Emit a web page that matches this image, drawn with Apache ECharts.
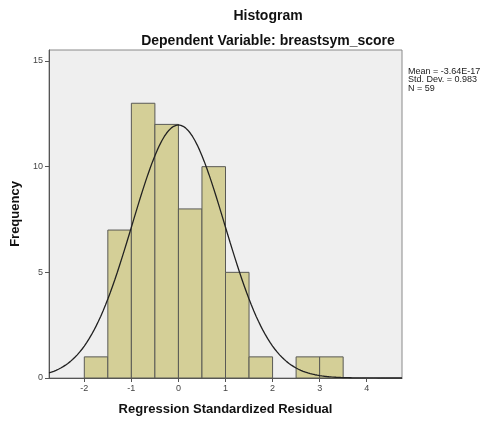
<!DOCTYPE html>
<html>
<head>
<meta charset="utf-8">
<script src="https://cdn.jsdelivr.net/npm/echarts@6/dist/echarts.min.js"></script>
<style>
  html, body { margin: 0; padding: 0; background: #ffffff; }
  #chart { width: 493px; height: 421px; }
</style>
</head>
<body>
<div id="chart"></div>
<script>
// Histogram bins (lower edge) and their frequencies
const binStarts = [-2, -1.5, -1, -0.5, 0, 0.5, 1, 1.5, 2, 2.5, 3];
const binWidth = 0.5;
const frequencies = [1, 7, 13, 12, 8, 10, 5, 1, 0, 1, 1];

// Summary statistics of the residuals
const residualMean = -3.64e-17;
const residualSd = 0.983;
const residualN = 59;

// Axis tick values
const xTicks = [-2, -1, 0, 1, 2, 3, 4];
const yTicks = [0, 5, 10, 15];

const statsLines = [
  'Mean = -3.64E-17',
  'Std. Dev. = 0.983',
  'N = 59'
];

// Bars as [start, end, count]
const barData = binStarts.map((s, i) => [s, s + binWidth, frequencies[i]]);

// Fitted normal curve, scaled to counts per bin
const curveData = [];
for (let k = 0; k <= 150; k++) {
  const x = -2.75 + k * 0.05;
  const z = (x - residualMean) / residualSd;
  const y = residualN * binWidth * Math.exp(-0.5 * z * z) / (residualSd * Math.sqrt(2 * Math.PI));
  curveData.push([x, y]);
}

const chart = echarts.init(document.getElementById('chart'), null, { renderer: 'canvas' });

const font = 'Liberation Sans, Arial, sans-serif';

chart.setOption({
  animation: false,
  backgroundColor: '#ffffff',
  title: [
    {
      text: 'Histogram',
      left: 263, top: 4, textAlign: 'center',
      textStyle: { fontFamily: font, fontSize: 14, fontWeight: 'bold', color: '#111' }
    },
    {
      text: 'Dependent Variable: breastsym_score',
      left: 263, top: 29, textAlign: 'center',
      textStyle: { fontFamily: font, fontSize: 14, fontWeight: 'bold', color: '#111' }
    }
  ],
  grid: {
    left: 49, right: 91, top: 50, bottom: 42,
    show: true,
    backgroundColor: '#efefef',
    borderColor: '#8a8a8a',
    borderWidth: 1
  },
  xAxis: {
    type: 'value',
    min: -2.75, max: 4.75,
    name: 'Regression Standardized Residual',
    nameLocation: 'middle',
    nameGap: 25,
    nameTextStyle: { fontFamily: font, fontSize: 13, fontWeight: 'bold', color: '#111' },
    axisLine: { show: true, onZero: false, lineStyle: { color: '#555', width: 1 } },
    axisTick: { show: true, customValues: xTicks, length: 4, lineStyle: { color: '#555' } },
    axisLabel: { customValues: xTicks, fontFamily: font, fontSize: 9, color: '#444', margin: 6 },
    splitLine: { show: false }
  },
  yAxis: {
    type: 'value',
    min: 0, max: 15.52,
    name: 'Frequency',
    nameLocation: 'middle',
    nameGap: 24,
    nameRotate: 90,
    nameTextStyle: { fontFamily: font, fontSize: 13, fontWeight: 'bold', color: '#111' },
    axisLine: { show: true, onZero: false, lineStyle: { color: '#555', width: 1 } },
    axisTick: { show: true, customValues: yTicks, length: 4, lineStyle: { color: '#555' } },
    axisLabel: { customValues: yTicks, fontFamily: font, fontSize: 9, color: '#444', margin: 6 },
    splitLine: { show: false }
  },
  series: [
    {
      type: 'custom',
      data: barData,
      encode: { x: [0, 1], y: 2 },
      renderItem: function (params, api) {
        const count = api.value(2);
        if (!count) return null;
        const p0 = api.coord([api.value(0), 0]);
        const p1 = api.coord([api.value(1), count]);
        return {
          type: 'rect',
          shape: { x: p0[0], y: p1[1], width: p1[0] - p0[0], height: p0[1] - p1[1] },
          style: { fill: '#d4cf97', stroke: '#5a5a55', lineWidth: 1 }
        };
      },
      z: 2
    },
    {
      type: 'line',
      data: curveData,
      showSymbol: false,
      smooth: false,
      lineStyle: { color: '#222', width: 1.3 },
      z: 3
    }
  ],
  graphic: [
    {
      type: 'text',
      left: 408, top: 67,
      style: {
        text: statsLines.join('\n'),
        font: '9px ' + font,
        lineHeight: 8.5,
        fill: '#222'
      }
    }
  ]
});
</script>
</body>
</html>
